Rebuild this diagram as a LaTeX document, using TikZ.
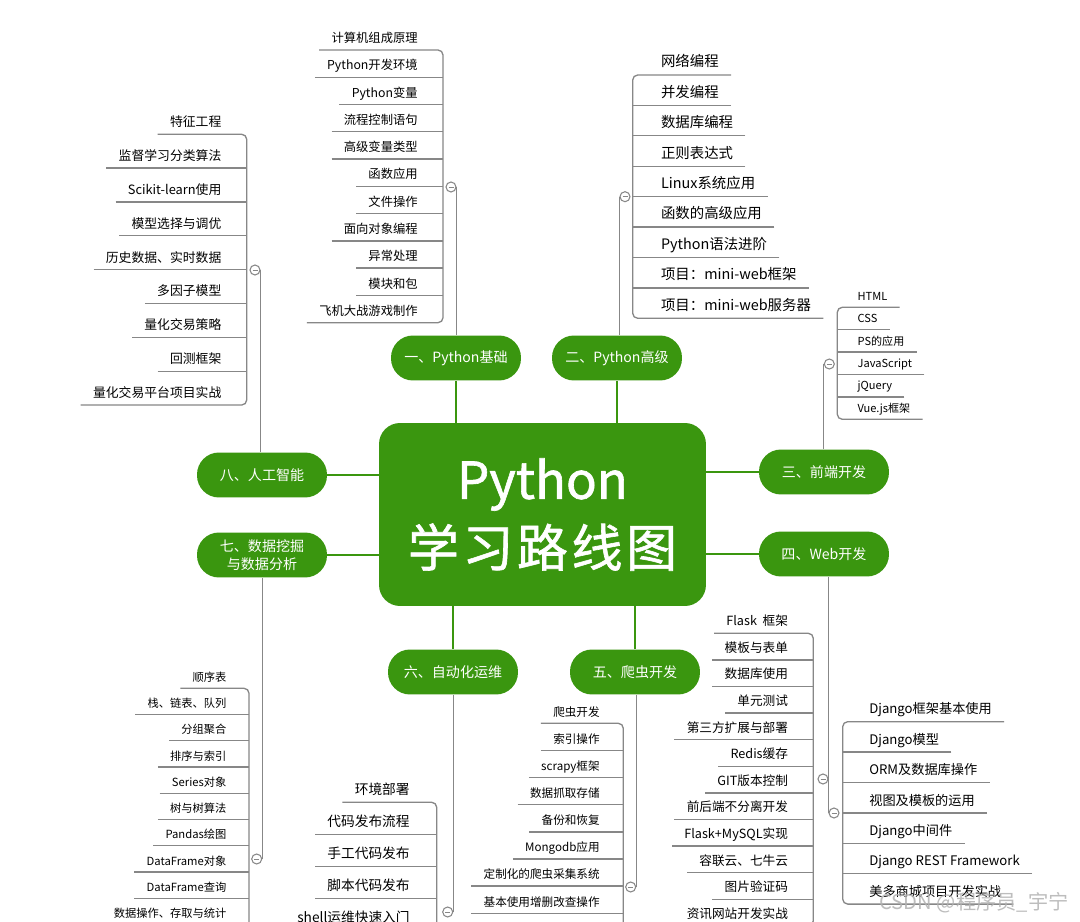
\documentclass[tikz,border=0pt]{standalone}
\usepackage{fontspec}
\setmainfont{Noto Sans CJK SC}
\newfontfamily\rootfont[FakeBold=1.2]{Noto Sans CJK SC}
\usepackage{tikz}
\definecolor{mapgreen}{RGB}{58,150,15}
\definecolor{twiggray}{RGB}{135,135,135}
\newcommand\rootgap{\hspace{0.07em}}
\tikzset{
  rootbox/.style={rectangle,rounded corners=0.42cm,fill=mapgreen,text=white,
    minimum width=6.54cm,minimum height=3.66cm,align=center,
    font=\rootfont\fontsize{29}{38.6}\selectfont},
  topicbox/.style={rectangle,rounded corners=0.44cm,fill=mapgreen,text=white,
    minimum width=2.6cm,minimum height=0.9cm,align=center,
    font=\fontsize{8}{10.5}\selectfont,inner sep=2pt},
  leafL/.style={anchor=south east,inner xsep=2.4mm,inner ysep=1.5pt,
    execute at begin node=\strut},
  leafR/.style={anchor=south west,inner xsep=2.4mm,inner ysep=1.5pt,
    execute at begin node=\strut},
  foldbox/.style={circle,draw=twiggray,fill=white,line width=0.6pt,
    minimum size=0.2cm,inner sep=0pt,
    path picture={\draw[twiggray,line width=0.5pt]
      ([xshift=-0.5mm]path picture bounding box.center) --
      ([xshift=0.5mm]path picture bounding box.center);}},
  stem/.style={draw=mapgreen,line width=1.3pt},
  twig/.style={draw=twiggray,line width=0.75pt},
  brace/.style={twig,rounded corners=1mm},
}

\begin{document}
\begin{tikzpicture}[x=0.02cm,y=-0.02cm]
  \clip (0,0) rectangle (1080,922);
  \fill[white] (0,0) rectangle (1080,922);

  \node[rootbox] (root) at (542.5,514.5) {Python\\学\rootgap 习\rootgap 路\rootgap 线\rootgap 图};
  \node[topicbox] (basic)    at (456,358) {一、Python基础};
  \node[topicbox] (advanced) at (617,358) {二、Python高级};
  \node[topicbox] (front)    at (824,472) {三、前端开发};
  \node[topicbox] (webdev)   at (824,554) {四、Web开发};
  \node[topicbox] (spider)   at (635,672) {五、爬虫开发};
  \node[topicbox] (devops)   at (453,672) {六、自动化运维};
  \node[topicbox] (mining)   at (262,555) {七、数据挖掘\\与数据分析};
  \node[topicbox] (aiml)     at (262,475) {八、人工智能};
  \draw[stem] (basic.south) -- (basic.south |- root.north);
  \draw[stem] (advanced.south) -- (advanced.south |- root.north);
  \draw[stem] (front.west) -- (front.west -| root.east);
  \draw[stem] (webdev.west) -- (webdev.west -| root.east);
  \draw[stem] (spider.north) -- (spider.north |- root.south);
  \draw[stem] (devops.north) -- (devops.north |- root.south);
  \draw[stem] (mining.east) -- (mining.east -| root.west);
  \draw[stem] (aiml.east) -- (aiml.east -| root.west);

  % 一
  \foreach \t [count=\i] in {计算机组成原理,Python开发环境,Python变量,流程控制语句,高级变量类型,函数应用,文件操作,面向对象编程,异常处理,模块和包,飞机大战游戏制作}
    \node[leafL,font=\fontsize{7}{8.4}\selectfont] (base\i) at (430,{50+27.27*(\i-1)}) {\t};
  \coordinate (kbase) at (443,187);
  \node[foldbox] (fbase) at (451,187) {};
  \draw[brace] (base1.south west) -| (kbase) |- (base11.south west);
  \foreach \i in {2,...,10} \draw[twig] (base\i.south west) -- (base\i.south west -| kbase);
  \draw[twig] (basic.north -| fbase.east) -- (fbase.east);

  % 二
  \foreach \t [count=\i] in {网络编程,并发编程,数据库编程,正则表达式,Linux系统应用,函数的高级应用,Python语法进阶,项目：mini-web框架,项目：mini-web服务器}
    \node[leafR,font=\fontsize{8.2}{9.8}\selectfont] (adv\i) at (648.7,{75+30.41*(\i-1)}) {\t};
  \coordinate (kadv) at (632.7,196.7);
  \node[foldbox] (fadv) at (625,196.7) {};
  \draw[brace] (adv1.south east) -| (kadv) |- (adv9.south east);
  \foreach \i in {2,...,8} \draw[twig] (adv\i.south east) -- (adv\i.south east -| kadv);
  \draw[twig] (advanced.north -| fadv.west) -- (fadv.west);

  % 三
  \foreach \t [count=\i] in {HTML,CSS,PS的应用,JavaScript,jQuery,Vue.js框架}
    \node[leafR,font=\fontsize{6.3}{7.6}\selectfont] (fe\i) at (845.3,{307.3+22.4*(\i-1)}) {\t};
  \coordinate (kfe) at (837.3,364);
  \node[foldbox] (ffe) at (829.3,364) {};
  \draw[brace] (fe1.south east) -| (kfe) |- (fe6.south east);
  \foreach \i in {2,...,5} \draw[twig] (fe\i.south east) -- (fe\i.south east -| kfe);
  \draw[twig] (front.north -| ffe.west) -- (ffe.west);

  % 四
  \foreach \t [count=\i] in {Flask~~框架,模板与表单,数据库使用,单元测试,第三方扩展与部署,Redis缓存,GIT版本控制,前后端不分离开发,Flask+MySQL实现,容联云、七牛云,图片验证码,资讯网站开发实战}
    \node[leafL,font=\fontsize{7.2}{8.6}\selectfont] (fl\i) at (800.3,{633.3+26.6*(\i-1)}) {\t};
  \coordinate (kfl) at (813.3,779);
  \node[foldbox] (ffl) at (823,779) {};
  \draw[brace] (fl1.south west) -| (kfl) |- (fl12.south west);
  \foreach \i in {2,...,11} \draw[twig] (fl\i.south west) -- (fl\i.south west -| kfl);
  \foreach \t [count=\i] in {Django框架基本使用,Django模型,ORM及数据库操作,视图及模板的运用,Django中间件,Django REST Framework,美多商城项目开发实战}
    \node[leafR,font=\fontsize{7.5}{9}\selectfont] (dj\i) at (857,{721.7+30.4*(\i-1)}) {\t};
  \coordinate (kdj) at (842.7,813);
  \node[foldbox] (fdj) at (834,813) {};
  \draw[brace] (dj1.south east) -| (kdj) |- (dj7.south east);
  \foreach \i in {2,...,6} \draw[twig] (dj\i.south east) -- (dj\i.south east -| kdj);
  \draw[twig] (webdev.south -| fdj.west) -- (fdj.west);

  % 五
  \foreach \t [count=\i] in {爬虫开发,索引操作,scrapy框架,数据抓取存储,备份和恢复,Mongodb应用,定制化的爬虫采集系统,基本使用增删改查操作}
    \node[leafL,font=\fontsize{6.6}{7.9}\selectfont] (spi\i) at (612,{723.3+27.14*(\i-1)}) {\t};
  \coordinate (kspi) at (623.3,887);
  \coordinate (kspiend) at (623.3,945);
  \node[foldbox] (fspi) at (630.7,887) {};
  \draw[brace] (spi1.south west) -| (kspiend);
  \foreach \i in {2,...,8} \draw[twig] (spi\i.south west) -- (spi\i.south west -| kspi);
  \draw[twig] (spider.south -| fspi.east) -- (fspi.east);

  % 六
  \foreach \t [count=\i] in {环境部署,代码发布流程,手工代码发布,脚本代码发布,shell运维快速入门}
    \node[leafL,font=\fontsize{7.8}{9.4}\selectfont] (ops\i) at (422,{802.3+32*(\i-1)}) {\t};
  \coordinate (kops) at (436.7,912);
  \coordinate (kopsend) at (436.7,945);
  \node[foldbox] (fops) at (447.7,912) {};
  \draw[brace] (ops1.south west) -| (kopsend);
  \foreach \i in {2,...,5} \draw[twig] (ops\i.south west) -- (ops\i.south west -| kops);
  \draw[twig] (devops.south -| fops.east) -- (fops.east);

  % 七
  \foreach \t [count=\i] in {顺序表,栈、链表、队列,分组聚合,排序与索引,Series对象,树与树算法,Pandas绘图,DataFrame对象,DataFrame查询,数据操作、存取与统计}
    \node[leafL,font=\fontsize{6.4}{7.7}\selectfont] (dat\i) at (238.7,{688.3+26.25*(\i-1)}) {\t};
  \coordinate (kdat) at (249,859);
  \coordinate (kdatend) at (249,945);
  \node[foldbox] (fdat) at (256.7,859) {};
  \draw[brace] (dat1.south west) -| (kdatend);
  \foreach \i in {2,...,10} \draw[twig] (dat\i.south west) -- (dat\i.south west -| kdat);
  \draw[twig] (mining.south -| fdat.east) -- (fdat.east);

  % 八
  \foreach \t [count=\i] in {特征工程,监督学习分类算法,Scikit-learn使用,模型选择与调优,历史数据、实时数据,多因子模型,量化交易策略,回测框架,量化交易平台项目实战}
    \node[leafL,font=\fontsize{7.3}{8.8}\selectfont] (ai\i) at (233.7,{134.3+33.84*(\i-1)}) {\t};
  \coordinate (kai) at (246.7,270);
  \node[foldbox] (fai) at (255,270) {};
  \draw[brace] (ai1.south west) -| (kai) |- (ai9.south west);
  \foreach \i in {2,...,8} \draw[twig] (ai\i.south west) -- (ai\i.south west -| kai);
  \draw[twig] (aiml.north -| fai.east) -- (fai.east);

  \node[text=gray!60,opacity=0.85,font=\fontsize{11.5}{13}\selectfont] (mark) at (974,903) {CSDN @程序员\_宇宁};
\end{tikzpicture}
\end{document}
